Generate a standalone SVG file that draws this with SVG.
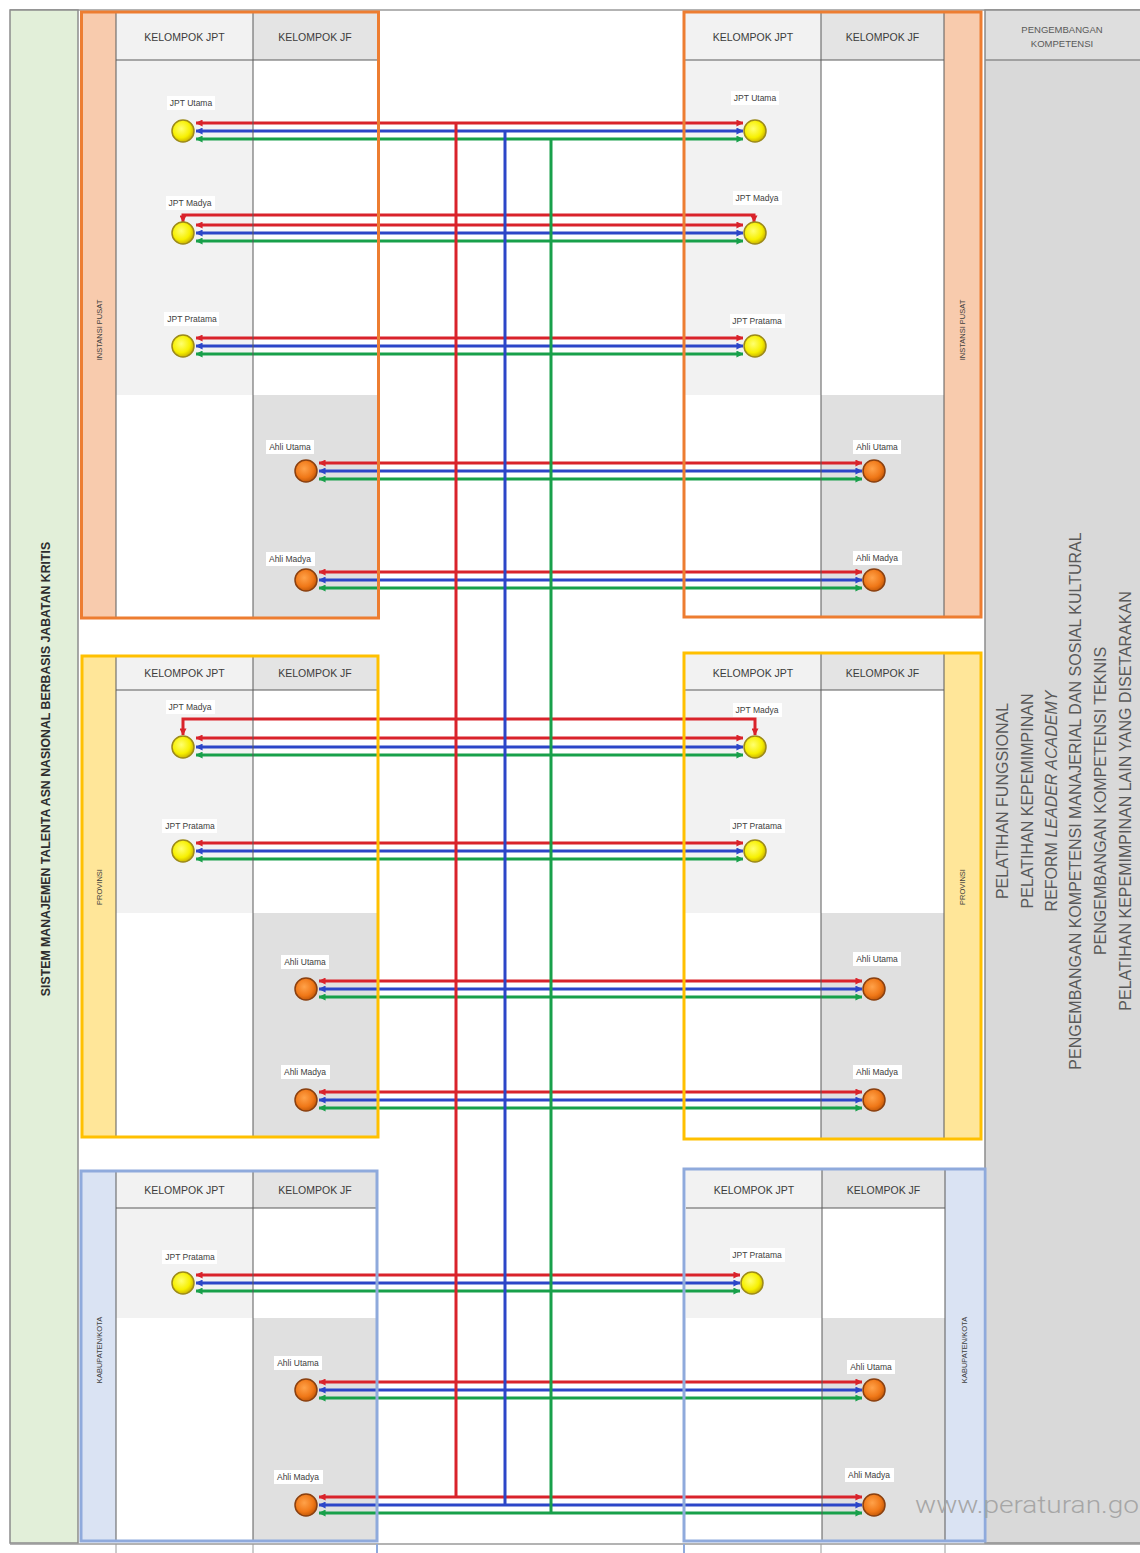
<svg xmlns="http://www.w3.org/2000/svg" width="1140" height="1553" viewBox="0 0 1140 1553">
<defs>
<style>
.hdr{font-family:"Liberation Sans",Arial,sans-serif;font-size:10.5px;fill:#3c3c3c;text-anchor:middle}
.lbl{font-family:"Liberation Sans",Arial,sans-serif;font-size:8.5px;fill:#404040;text-anchor:middle}
.box{fill:#ffffff}
.strip{font-family:"Liberation Sans",Arial,sans-serif;font-size:7.5px;fill:#404040;text-anchor:middle}
.side{font-family:"Liberation Sans",Arial,sans-serif;font-size:16px;fill:#595959;text-anchor:middle}
.dv{stroke:#5a5a5a;stroke-width:1;fill:none}
.fo{fill:none;stroke:#ed7d31;stroke-width:3}
.fy{fill:none;stroke:#ffc000;stroke-width:3}
.fb{fill:none;stroke:#8faadc;stroke-width:3}
.r{stroke:#d9232b;stroke-width:3;fill:none}
.b{stroke:#2c46c8;stroke-width:3;fill:none}
.g{stroke:#18a04a;stroke-width:3;fill:none}
.ra{marker-start:url(#ar);marker-end:url(#ar)}
.ba{marker-start:url(#ab);marker-end:url(#ab)}
.ga{marker-start:url(#ag);marker-end:url(#ag)}
.ny{fill:url(#gy);stroke:#9c8a1a;stroke-width:1.5}
.no{fill:url(#go);stroke:#8a4010;stroke-width:1.5}
</style>
<marker id="ar" viewBox="0 0 8 8" refX="7.5" refY="4" markerWidth="7" markerHeight="7" markerUnits="userSpaceOnUse" orient="auto-start-reverse"><path d="M0,0 L8,4 L0,8 z" fill="#d9232b"/></marker>
<marker id="ab" viewBox="0 0 8 8" refX="7.5" refY="4" markerWidth="7" markerHeight="7" markerUnits="userSpaceOnUse" orient="auto-start-reverse"><path d="M0,0 L8,4 L0,8 z" fill="#2c46c8"/></marker>
<marker id="ag" viewBox="0 0 8 8" refX="7.5" refY="4" markerWidth="7" markerHeight="7" markerUnits="userSpaceOnUse" orient="auto-start-reverse"><path d="M0,0 L8,4 L0,8 z" fill="#18a04a"/></marker>
<radialGradient id="gy" cx="0.42" cy="0.4" r="0.62"><stop offset="0" stop-color="#ffff70"/><stop offset="0.65" stop-color="#f7f000"/><stop offset="1" stop-color="#c8b000"/></radialGradient>
<radialGradient id="go" cx="0.42" cy="0.4" r="0.62"><stop offset="0" stop-color="#ffa24a"/><stop offset="0.65" stop-color="#f07818"/><stop offset="1" stop-color="#c25808"/></radialGradient>
</defs>

<rect x="0" y="0" width="1140" height="1553" fill="#ffffff"/>

<g id="frame">
<line x1="10" y1="10" x2="1140" y2="10" stroke="#9a9a9a" stroke-width="1.5"/>
<rect x="10" y="10" width="68" height="1533" fill="#e2efd9" stroke="#8c8c8c" stroke-width="1.5"/>
<rect x="985" y="10" width="156" height="1533" fill="#d9d9d9" stroke="#8c8c8c" stroke-width="1.5"/>
<rect x="986" y="11" width="154" height="49" fill="#dedede"/>
<line x1="985" y1="60" x2="1140" y2="60" stroke="#8c8c8c" stroke-width="1.5"/>
<line x1="10" y1="1544" x2="1140" y2="1544" stroke="#9a9a9a" stroke-width="1.5"/>
<g stroke="#9a9a9a" stroke-width="1">
<line x1="116" y1="1544" x2="116" y2="1553"/><line x1="253" y1="1544" x2="253" y2="1553"/>
<line x1="821" y1="1544" x2="821" y2="1553"/><line x1="945" y1="1544" x2="945" y2="1553"/>
</g>
<g stroke="#8faadc" stroke-width="2">
<line x1="377" y1="1544" x2="377" y2="1553"/><line x1="684" y1="1544" x2="684" y2="1553"/>
</g>
</g>

<g id="panel-fills">
<!-- Instansi Pusat left -->
<rect x="83" y="13" width="33" height="605" fill="#f8cbad"/>
<rect x="116" y="13" width="137" height="47" fill="#f2f2f2"/>
<rect x="253" y="13" width="124" height="47" fill="#e4e4e4"/>
<rect x="116" y="60" width="137" height="335" fill="#f2f2f2"/>
<rect x="253" y="395" width="124" height="222" fill="#e0e0e0"/>
<!-- Instansi Pusat right -->
<rect x="944" y="13" width="36" height="603" fill="#f8cbad"/>
<rect x="685" y="13" width="136" height="47" fill="#f2f2f2"/>
<rect x="821" y="13" width="123" height="47" fill="#e4e4e4"/>
<rect x="685" y="60" width="136" height="335" fill="#f2f2f2"/>
<rect x="821" y="395" width="123" height="221" fill="#e0e0e0"/>
<!-- Provinsi left -->
<rect x="83" y="657" width="33" height="479" fill="#ffe699"/>
<rect x="116" y="657" width="137" height="33" fill="#f2f2f2"/>
<rect x="253" y="657" width="124" height="33" fill="#e4e4e4"/>
<rect x="116" y="690" width="137" height="223" fill="#f2f2f2"/>
<rect x="253" y="913" width="124" height="223" fill="#e0e0e0"/>
<!-- Provinsi right -->
<rect x="944" y="654" width="36" height="484" fill="#ffe699"/>
<rect x="685" y="654" width="136" height="36" fill="#f2f2f2"/>
<rect x="821" y="654" width="123" height="36" fill="#e4e4e4"/>
<rect x="685" y="690" width="136" height="223" fill="#f2f2f2"/>
<rect x="821" y="913" width="123" height="225" fill="#e0e0e0"/>
<!-- Kabupaten/Kota left -->
<rect x="82" y="1172" width="34" height="368" fill="#dae3f3"/>
<rect x="116" y="1172" width="137" height="36" fill="#f2f2f2"/>
<rect x="253" y="1172" width="123" height="36" fill="#e4e4e4"/>
<rect x="116" y="1208" width="137" height="110" fill="#f2f2f2"/>
<rect x="253" y="1318" width="123" height="222" fill="#e0e0e0"/>
<!-- Kabupaten/Kota right -->
<rect x="945" y="1170" width="38" height="370" fill="#dae3f3"/>
<rect x="686" y="1170" width="136" height="38" fill="#f2f2f2"/>
<rect x="822" y="1170" width="123" height="38" fill="#e4e4e4"/>
<rect x="686" y="1208" width="136" height="110" fill="#f2f2f2"/>
<rect x="822" y="1318" width="123" height="222" fill="#e0e0e0"/>
</g>

<g id="connectors">
<!-- row 1 JPT Utama -->
<path class="r ra" d="M196,123 H743"/>
<path class="b ba" d="M196,131 H743"/>
<path class="g ga" d="M196,139 H743"/>
<!-- row 2 JPT Madya -->
<path class="r ra" d="M183,222 V215 H754 V222"/>
<path class="r ra" d="M196,225 H743"/>
<path class="b ba" d="M196,233 H743"/>
<path class="g ga" d="M196,241 H743"/>
<!-- row 3 JPT Pratama -->
<path class="r ra" d="M196,338 H743"/>
<path class="b ba" d="M196,346 H743"/>
<path class="g ga" d="M196,354 H743"/>
<!-- row 4 Ahli Utama -->
<path class="r ra" d="M319,463 H862"/>
<path class="b ba" d="M319,471 H862"/>
<path class="g ga" d="M319,479 H862"/>
<!-- row 5 Ahli Madya -->
<path class="r ra" d="M319,572 H862"/>
<path class="b ba" d="M319,580 H862"/>
<path class="g ga" d="M319,588 H862"/>
<!-- row 6 Prov JPT Madya -->
<path class="r ra" d="M183,735 V719 H755 V735"/>
<path class="r ra" d="M196,738 H743"/>
<path class="b ba" d="M196,747 H743"/>
<path class="g ga" d="M196,755 H743"/>
<!-- row 7 Prov JPT Pratama -->
<path class="r ra" d="M196,843 H743"/>
<path class="b ba" d="M196,851 H743"/>
<path class="g ga" d="M196,859 H743"/>
<!-- row 8 Prov Ahli Utama -->
<path class="r ra" d="M319,981 H862"/>
<path class="b ba" d="M319,989 H862"/>
<path class="g ga" d="M319,997 H862"/>
<!-- row 9 Prov Ahli Madya -->
<path class="r ra" d="M319,1092 H862"/>
<path class="b ba" d="M319,1100 H862"/>
<path class="g ga" d="M319,1108 H862"/>
<!-- row 10 Kab JPT Pratama -->
<path class="r ra" d="M196,1275 H740"/>
<path class="b ba" d="M196,1283 H740"/>
<path class="g ga" d="M196,1291 H740"/>
<!-- row 11 Kab Ahli Utama -->
<path class="r ra" d="M319,1382 H862"/>
<path class="b ba" d="M319,1390 H862"/>
<path class="g ga" d="M319,1398 H862"/>
<!-- row 12 Kab Ahli Madya -->
<path class="r ra" d="M319,1497 H862"/>
<path class="b ba" d="M319,1505 H862"/>
<path class="g ga" d="M319,1513 H862"/>
<!-- trunks -->
<line class="r" x1="456" y1="123" x2="456" y2="1497" stroke-width="3.5"/>
<line class="b" x1="505" y1="131" x2="505" y2="1505"/>
<line class="g" x1="551" y1="139" x2="551" y2="1513" stroke-width="3.5"/>
</g>

<g id="panel-frames">
<g class="dv">
<line x1="116" y1="13" x2="116" y2="617"/><line x1="253" y1="13" x2="253" y2="617"/><line x1="116" y1="60" x2="377" y2="60"/>
<line x1="821" y1="13" x2="821" y2="616"/><line x1="944" y1="13" x2="944" y2="616"/><line x1="685" y1="60" x2="944" y2="60"/>
<line x1="116" y1="657" x2="116" y2="1136"/><line x1="253" y1="657" x2="253" y2="1136"/><line x1="116" y1="690" x2="377" y2="690"/>
<line x1="821" y1="654" x2="821" y2="1138"/><line x1="944" y1="654" x2="944" y2="1138"/><line x1="685" y1="690" x2="944" y2="690"/>
<line x1="116" y1="1172" x2="116" y2="1540"/><line x1="253" y1="1172" x2="253" y2="1540"/><line x1="116" y1="1208" x2="376" y2="1208"/>
<line x1="822" y1="1170" x2="822" y2="1540"/><line x1="945" y1="1170" x2="945" y2="1540"/><line x1="686" y1="1208" x2="945" y2="1208"/>
</g>
<rect class="fo" x="81.5" y="12" width="297" height="606"/>
<rect class="fo" x="684" y="12" width="297" height="605"/>
<rect class="fy" x="82" y="656" width="296" height="481"/>
<rect class="fy" x="684" y="653" width="297" height="486"/>
<rect class="fb" x="81" y="1171" width="296" height="370"/>
<rect class="fb" x="684" y="1169" width="301" height="372"/>
</g>

<g id="headers">
<text class="hdr" x="184.5" y="40.5">KELOMPOK JPT</text>
<text class="hdr" x="315" y="40.5">KELOMPOK JF</text>
<text class="hdr" x="753" y="40.5">KELOMPOK JPT</text>
<text class="hdr" x="882.5" y="40.5">KELOMPOK JF</text>
<text class="hdr" x="184.5" y="677">KELOMPOK JPT</text>
<text class="hdr" x="315" y="677">KELOMPOK JF</text>
<text class="hdr" x="753" y="677">KELOMPOK JPT</text>
<text class="hdr" x="882.5" y="677">KELOMPOK JF</text>
<text class="hdr" x="184.5" y="1194">KELOMPOK JPT</text>
<text class="hdr" x="315" y="1194">KELOMPOK JF</text>
<text class="hdr" x="754" y="1194">KELOMPOK JPT</text>
<text class="hdr" x="883.5" y="1194">KELOMPOK JF</text>
<text class="strip" transform="translate(99 330) rotate(-90)" y="2.7">INSTANSI PUSAT</text>
<text class="strip" transform="translate(962 330) rotate(-90)" y="2.7">INSTANSI PUSAT</text>
<text class="strip" transform="translate(99 887) rotate(-90)" y="2.7">PROVINSI</text>
<text class="strip" transform="translate(962 887) rotate(-90)" y="2.7">PROVINSI</text>
<text class="strip" transform="translate(99 1350) rotate(-90)" y="2.7">KABUPATEN/KOTA</text>
<text class="strip" transform="translate(964 1350) rotate(-90)" y="2.7">KABUPATEN/KOTA</text>
</g>

<g id="title-left">
<text transform="translate(46 769) rotate(-90)" y="4.4" font-family="Liberation Sans, Arial, sans-serif" font-size="12.3" font-weight="bold" fill="#2e2e2e" text-anchor="middle">SISTEM MANAJEMEN TALENTA ASN NASIONAL BERBASIS JABATAN KRITIS</text>
</g>

<g id="pengembangan-kompetensi">
<text x="1062" y="32.5" font-family="Liberation Sans, Arial, sans-serif" font-size="9.5" fill="#595959" text-anchor="middle">PENGEMBANGAN</text>
<text x="1062" y="46.5" font-family="Liberation Sans, Arial, sans-serif" font-size="9.5" fill="#595959" text-anchor="middle">KOMPETENSI</text>
<text class="side" transform="translate(1002 801) rotate(-90)" y="5.8">PELATIHAN FUNGSIONAL</text>
<text class="side" transform="translate(1027 801) rotate(-90)" y="5.8">PELATIHAN KEPEMIMPINAN</text>
<text class="side" transform="translate(1051 801) rotate(-90)" y="5.8">REFORM <tspan font-style="italic">LEADER ACADEMY</tspan></text>
<text class="side" transform="translate(1075 801) rotate(-90)" y="5.8">PENGEMBANGAN KOMPETENSI MANAJERIAL DAN SOSIAL KULTURAL</text>
<text class="side" transform="translate(1100 801) rotate(-90)" y="5.8">PENGEMBANGAN KOMPETENSI TEKNIS</text>
<text class="side" transform="translate(1125 801) rotate(-90)" y="5.8">PELATIHAN KEPEMIMPINAN LAIN YANG DISETARAKAN</text>
</g>

<!-- Instansi Pusat left -->
<g id="pusat-l-jpt-utama"><rect class="box" x="167" y="96" width="48" height="14"/><text class="lbl" x="191" y="106">JPT Utama</text><circle class="ny" cx="183" cy="131" r="11"/></g>
<g id="pusat-l-jpt-madya"><rect class="box" x="166" y="196" width="49" height="14"/><text class="lbl" x="190" y="206">JPT Madya</text><circle class="ny" cx="183" cy="233" r="11"/></g>
<g id="pusat-l-jpt-pratama"><rect class="box" x="164" y="312" width="55" height="14"/><text class="lbl" x="192" y="322">JPT Pratama</text><circle class="ny" cx="183" cy="346" r="11"/></g>
<g id="pusat-l-ahli-utama"><rect class="box" x="266" y="440" width="48" height="14"/><text class="lbl" x="290" y="450">Ahli Utama</text><circle class="no" cx="306" cy="471" r="11"/></g>
<g id="pusat-l-ahli-madya"><rect class="box" x="266" y="552" width="49" height="14"/><text class="lbl" x="290" y="562">Ahli Madya</text><circle class="no" cx="306" cy="580" r="11"/></g>
<!-- Instansi Pusat right -->
<g id="pusat-r-jpt-utama"><rect class="box" x="731" y="91" width="48" height="14"/><text class="lbl" x="755" y="101">JPT Utama</text><circle class="ny" cx="755" cy="131" r="11"/></g>
<g id="pusat-r-jpt-madya"><rect class="box" x="733" y="191" width="49" height="14"/><text class="lbl" x="757" y="201">JPT Madya</text><circle class="ny" cx="755" cy="233" r="11"/></g>
<g id="pusat-r-jpt-pratama"><rect class="box" x="730" y="314" width="55" height="14"/><text class="lbl" x="757" y="324">JPT Pratama</text><circle class="ny" cx="755" cy="346" r="11"/></g>
<g id="pusat-r-ahli-utama"><rect class="box" x="853" y="440" width="48" height="14"/><text class="lbl" x="877" y="450">Ahli Utama</text><circle class="no" cx="874" cy="471" r="11"/></g>
<g id="pusat-r-ahli-madya"><rect class="box" x="853" y="551" width="49" height="14"/><text class="lbl" x="877" y="561">Ahli Madya</text><circle class="no" cx="874" cy="580" r="11"/></g>
<!-- Provinsi left -->
<g id="prov-l-jpt-madya"><rect class="box" x="166" y="700" width="49" height="14"/><text class="lbl" x="190" y="710">JPT Madya</text><circle class="ny" cx="183" cy="747" r="11"/></g>
<g id="prov-l-jpt-pratama"><rect class="box" x="162" y="819" width="55" height="14"/><text class="lbl" x="190" y="829">JPT Pratama</text><circle class="ny" cx="183" cy="851" r="11"/></g>
<g id="prov-l-ahli-utama"><rect class="box" x="281" y="955" width="48" height="14"/><text class="lbl" x="305" y="965">Ahli Utama</text><circle class="no" cx="306" cy="989" r="11"/></g>
<g id="prov-l-ahli-madya"><rect class="box" x="281" y="1065" width="49" height="14"/><text class="lbl" x="305" y="1075">Ahli Madya</text><circle class="no" cx="306" cy="1100" r="11"/></g>
<!-- Provinsi right -->
<g id="prov-r-jpt-madya"><rect class="box" x="733" y="703" width="49" height="14"/><text class="lbl" x="757" y="713">JPT Madya</text><circle class="ny" cx="755" cy="747" r="11"/></g>
<g id="prov-r-jpt-pratama"><rect class="box" x="730" y="819" width="55" height="14"/><text class="lbl" x="757" y="829">JPT Pratama</text><circle class="ny" cx="755" cy="851" r="11"/></g>
<g id="prov-r-ahli-utama"><rect class="box" x="853" y="952" width="48" height="14"/><text class="lbl" x="877" y="962">Ahli Utama</text><circle class="no" cx="874" cy="989" r="11"/></g>
<g id="prov-r-ahli-madya"><rect class="box" x="853" y="1065" width="49" height="14"/><text class="lbl" x="877" y="1075">Ahli Madya</text><circle class="no" cx="874" cy="1100" r="11"/></g>
<!-- Kabupaten/Kota left -->
<g id="kab-l-jpt-pratama"><rect class="box" x="162" y="1250" width="55" height="14"/><text class="lbl" x="190" y="1260">JPT Pratama</text><circle class="ny" cx="183" cy="1283" r="11"/></g>
<g id="kab-l-ahli-utama"><rect class="box" x="274" y="1356" width="48" height="14"/><text class="lbl" x="298" y="1366">Ahli Utama</text><circle class="no" cx="306" cy="1390" r="11"/></g>
<g id="kab-l-ahli-madya"><rect class="box" x="274" y="1470" width="49" height="14"/><text class="lbl" x="298" y="1480">Ahli Madya</text><circle class="no" cx="306" cy="1505" r="11"/></g>
<!-- Kabupaten/Kota right -->
<g id="kab-r-jpt-pratama"><rect class="box" x="730" y="1248" width="55" height="14"/><text class="lbl" x="757" y="1258">JPT Pratama</text><circle class="ny" cx="752" cy="1283" r="11"/></g>
<g id="kab-r-ahli-utama"><rect class="box" x="847" y="1360" width="48" height="14"/><text class="lbl" x="871" y="1370">Ahli Utama</text><circle class="no" cx="874" cy="1390" r="11"/></g>
<g id="kab-r-ahli-madya"><rect class="box" x="845" y="1468" width="49" height="14"/><text class="lbl" x="869" y="1478">Ahli Madya</text><circle class="no" cx="874" cy="1505" r="11"/></g>

<text x="915" y="1513" font-family="Roboto, Liberation Sans, sans-serif" font-size="23" font-weight="300" fill="#a6a6a6" textLength="224" lengthAdjust="spacingAndGlyphs">www.peraturan.go</text>
</svg>
